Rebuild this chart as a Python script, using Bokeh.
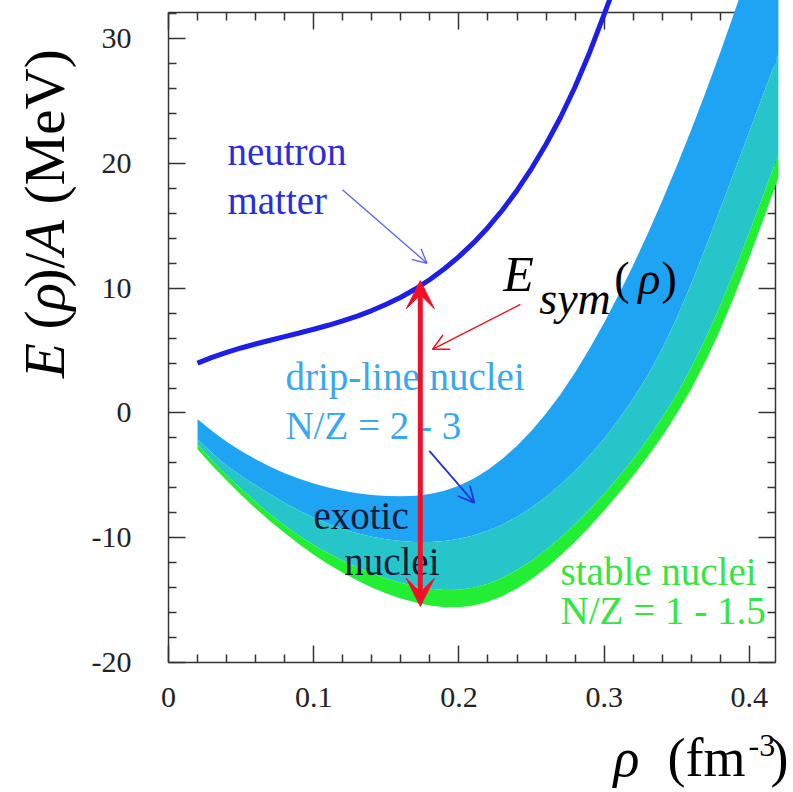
import math
from bokeh.plotting import figure
from bokeh.layouts import row, column
from bokeh.models import (Range1d, LinearAxis, FixedTicker, CustomJSTickFormatter,
                          Arrow, VeeHead, OpenHead)
from bokeh.core.properties import value
from bokeh.embed import file_html
from bokeh.resources import INLINE

# ---------------- data ----------------
rho = [0.02, 0.03, 0.04, 0.05, 0.06, 0.07, 0.08, 0.09, 0.10, 0.11, 0.12,
       0.13, 0.14, 0.15, 0.16, 0.17, 0.18, 0.19, 0.20, 0.21, 0.22,
       0.23, 0.24, 0.25, 0.26, 0.27, 0.28, 0.29, 0.30, 0.31, 0.32,
       0.33, 0.34, 0.35, 0.36, 0.37, 0.38, 0.39, 0.40, 0.41, 0.42]
drip_upper = [-0.5, -1.45, -2.30, -3.05, -3.71, -4.31, -4.83, -5.28, -5.66, -5.98, -6.24,
              -6.44, -6.58, -6.66, -6.68, -6.63, -6.49, -6.23, -5.83, -5.27, -4.55,
              -3.67, -2.63, -1.43, -0.05, 1.51, 3.25, 5.17, 7.24, 9.47, 11.85,
              14.37, 17.02, 19.80, 22.71, 25.75, 28.92, 32.22, 35.65, 39.21, 42.90]
drip_lower = [-2.1, -3.2, -4.2, -5.05, -5.8, -6.52, -7.2, -7.82, -8.38, -8.87, -9.29,
              -9.64, -9.92, -10.13, -10.27, -10.34, -10.34, -10.26, -10.09, -9.82, -9.44,
              -8.94, -8.32, -7.58, -6.72, -5.74, -4.64, -3.41, -2.04, -0.52, 1.16,
              3.01, 5.16, 7.61, 10.36, 13.31, 16.36, 19.46, 22.56, 25.66, 28.76]
stable_upper = [-2.5, -3.8, -5.0, -6.1, -7.14, -8.12, -9.02, -9.84, -10.58, -11.25, -11.85,
                -12.38, -12.85, -13.26, -13.61, -13.89, -14.09, -14.19, -14.17, -14.01, -13.69,
                -13.21, -12.59, -11.84, -10.97, -9.99, -8.91, -7.74, -6.48, -5.13, -3.68,
                -2.11, -0.39, 1.51, 3.63, 6.01, 8.63, 11.47, 14.47, 17.57, 20.72]
stable_lower = [-2.9, -4.2, -5.42, -6.57, -7.65, -8.67, -9.63, -10.53, -11.36, -12.12, -12.81,
                -13.43, -13.98, -14.46, -14.87, -15.20, -15.44, -15.57, -15.57, -15.43, -15.13,
                -14.67, -14.06, -13.31, -12.43, -11.43, -10.32, -9.11, -7.82, -6.46, -5.03,
                -3.51, -1.87, -0.07, 1.93, 4.18, 6.70, 9.48, 12.48, 15.63, 18.88]

neutron_rho = [0.02, 0.03, 0.04, 0.05, 0.06, 0.07, 0.08, 0.09, 0.10, 0.11, 0.12,
               0.13, 0.14, 0.15, 0.16, 0.17, 0.18, 0.19, 0.20, 0.21, 0.22,
               0.23, 0.24, 0.25, 0.26, 0.27, 0.28, 0.29, 0.30, 0.305]
neutron_E = [4.0, 4.46, 4.86, 5.21, 5.53, 5.83, 6.12, 6.41, 6.71, 7.03, 7.38,
             7.77, 8.21, 8.71, 9.28, 9.94, 10.70, 11.56, 12.53, 13.63, 14.87,
             16.27, 17.84, 19.59, 21.54, 23.70, 26.15, 28.90, 31.95, 33.5]

rho0 = 0.1734          # density of the E_sym arrow
esym_bottom = -15.6
esym_top = 10.6

x_ticks = [0, 0.1, 0.2, 0.3, 0.4]
x_minor = [0.02, 0.04, 0.06, 0.08, 0.12, 0.14, 0.16, 0.18, 0.22, 0.24, 0.26, 0.28,
           0.32, 0.34, 0.36, 0.38]
y_ticks = [-20, -10, 0, 10, 20, 30]
y_minor = [-18, -16, -14, -12, -8, -6, -4, -2, 2, 4, 6, 8, 12, 14, 16, 18,
           22, 24, 26, 28, 32]

# ---------------- main figure ----------------
SERIF = "Liberation Serif"
X0, X1, Y0, Y1 = 0, 0.418, -20, 32.1
FRAME_H = 650
PX_PER_UNIT = FRAME_H / (Y1 - Y0)
BASE_FIX = 0.34   # em shift so that the glyph baseline lands on the anchor

p = figure(width=700, height=722, x_range=Range1d(X0, X1), y_range=Range1d(Y0, Y1),
           output_backend="svg", toolbar_location=None,
           min_border_left=78, min_border_right=13, min_border_top=12, min_border_bottom=60)
p.xgrid.visible = False
p.ygrid.visible = False
p.outline_line_color = None
p.background_fill_color = "white"
p.border_fill_color = "white"

xfmt = CustomJSTickFormatter(code="return tick == 0 ? '0' : tick.toFixed(1);")
yfmt = CustomJSTickFormatter(code="return tick.toFixed(0);")
blank = CustomJSTickFormatter(code="return '';")

def style_axis(ax, standoff):
    ax.axis_line_color = "#333333"
    ax.axis_line_width = 1.5
    ax.major_tick_line_color = "#333333"
    ax.major_tick_line_width = 1.5
    ax.minor_tick_line_color = "#333333"
    ax.minor_tick_line_width = 1.5
    ax.major_tick_in = 17
    ax.major_tick_out = 0
    ax.minor_tick_in = 8
    ax.minor_tick_out = 0
    ax.major_label_text_font = SERIF
    ax.major_label_text_font_size = "30px"
    ax.major_label_text_color = "#222222"
    ax.major_label_standoff = standoff

xb = p.xaxis[0]
xb.ticker = FixedTicker(ticks=x_ticks, minor_ticks=x_minor)
xb.formatter = xfmt
style_axis(xb, 25)
yl = p.yaxis[0]
yl.ticker = FixedTicker(ticks=y_ticks, minor_ticks=y_minor)
yl.formatter = yfmt
style_axis(yl, 37)

xt = LinearAxis(ticker=FixedTicker(ticks=x_ticks, minor_ticks=x_minor), formatter=blank)
style_axis(xt, 0)
p.add_layout(xt, "above")
yr = LinearAxis(ticker=FixedTicker(ticks=y_ticks, minor_ticks=y_minor), formatter=blank)
style_axis(yr, 0)
p.add_layout(yr, "right")

# ---------------- bands (drawn over the frame, as in the original) ----------------
p.varea(x=rho, y1=drip_lower, y2=drip_upper, fill_color="#1FA3F3", level="overlay")
p.varea(x=rho, y1=stable_upper, y2=drip_lower, fill_color="#26C5C9", level="overlay")
p.varea(x=rho, y1=stable_lower, y2=stable_upper, fill_color="#22EE33", level="overlay")

# ---------------- neutron matter ----------------
p.line(neutron_rho, neutron_E, line_color="#1E1EE6", line_width=5, level="overlay")

# ---------------- arrows ----------------
RED = "#F01028"
p.add_layout(Arrow(x_start=rho0, y_start=esym_bottom + 0.1, x_end=rho0, y_end=esym_top,
                   start=VeeHead(size=28, fill_color=RED, line_color=RED),
                   end=VeeHead(size=28, fill_color=RED, line_color=RED),
                   line_color=RED, line_width=5, level="overlay"))
p.add_layout(Arrow(x_start=0.1198, y_start=17.9, x_end=0.178, y_end=12.0,
                   end=OpenHead(size=14, line_color="#5563E8", line_width=1.3),
                   line_color="#5563E8", line_width=1.3, level="overlay"))
p.add_layout(Arrow(x_start=0.2423, y_start=8.7, x_end=0.1817, y_end=5.1,
                   end=OpenHead(size=16, line_color=RED, line_width=1.5),
                   line_color=RED, line_width=1.5, level="overlay"))
p.add_layout(Arrow(x_start=0.1796, y_start=-3.04, x_end=0.2106, y_end=-7.2,
                   end=OpenHead(size=16, line_color="#2035D8", line_width=1.8),
                   line_color="#2035D8", line_width=1.8, level="overlay"))

# ---------------- in-plot texts ----------------
def txt(x, y, s, color, size=39, style="normal"):
    y_adj = y + BASE_FIX * size / PX_PER_UNIT
    p.text(x=[x], y=[y_adj], text=[s], text_font=value(SERIF), text_font_size=f"{size}px",
           text_color=color, text_font_style=style, text_baseline="alphabetic",
           text_align="left", level="overlay")

txt(0.0406, 19.9, "neutron", "#2B2BE0")
txt(0.0406, 16.0, "matter", "#2B2BE0")
txt(0.0805, 1.9, "drip-line nuclei", "#3AA8EE")
txt(0.0805, -2.1, "N/Z = 2 - 3", "#3AA8EE")
txt(0.0998, -9.3, "exotic", "#0A1A30")
txt(0.121, -13.0, "nuclei", "#0A1A30")
txt(0.270, -13.8, "stable nuclei", "#33E640")
txt(0.270, -16.9, "N/Z = 1 - 1.5", "#33E640")
txt(0.2305, 9.8, "E", "black", 50, "italic")
txt(0.2553, 7.9, "sym", "black", 46, "italic")
txt(0.307, 9.5, "(", "black", 46)
txt(0.3235, 9.5, "ρ", "black", 46, "italic")
txt(0.3395, 9.5, ")", "black", 46)

# ---------------- y-axis title (left strip), pieces centred ----------------
left = figure(width=88, height=722, x_range=Range1d(0, 88), y_range=Range1d(0, 722),
              output_backend="svg", toolbar_location=None,
              x_axis_location=None, y_axis_location=None,
              min_border_left=0, min_border_right=0, min_border_top=0, min_border_bottom=0)
left.outline_line_color = None
left.xgrid.visible = False
left.ygrid.visible = False

def vtxt(yc, s, style, size=57):
    left.text(x=[63 - BASE_FIX * size], y=[yc], text=[s], angle=math.pi / 2,
              text_font=value(SERIF), text_font_size=f"{size}px", text_font_style=style,
              text_color="black", text_align="center", text_baseline="middle")

vtxt(335.4, "E", "italic")
vtxt(380.5, "(", "normal")
vtxt(406.3, "ρ", "italic")
vtxt(435.9, ")/", "normal")
vtxt(472.0, "A", "italic")
vtxt(595.0, "(MeV)", "normal")

# ---------------- x-axis title (bottom strip) ----------------
bottom = figure(width=788, height=68, x_range=Range1d(0, 788), y_range=Range1d(0, 68),
                output_backend="svg", toolbar_location=None,
                x_axis_location=None, y_axis_location=None,
                min_border_left=0, min_border_right=0, min_border_top=0, min_border_bottom=0)
bottom.outline_line_color = None
bottom.xgrid.visible = False
bottom.ygrid.visible = False

def htxt(x, y, s, style, size):
    bottom.text(x=[x], y=[y + BASE_FIX * size], text=[s],
                text_font=value(SERIF), text_font_size=f"{size}px", text_font_style=style,
                text_color="black", text_align="left", text_baseline="alphabetic")

htxt(613, 14, "ρ", "italic", 54)
htxt(667, 14, "(fm", "normal", 54)
htxt(748, 34, "-3", "normal", 32)
htxt(770, 14, ")", "normal", 54)

layout = column(row(left, p), bottom)
open("out.html", "w").write(file_html(layout, INLINE))
